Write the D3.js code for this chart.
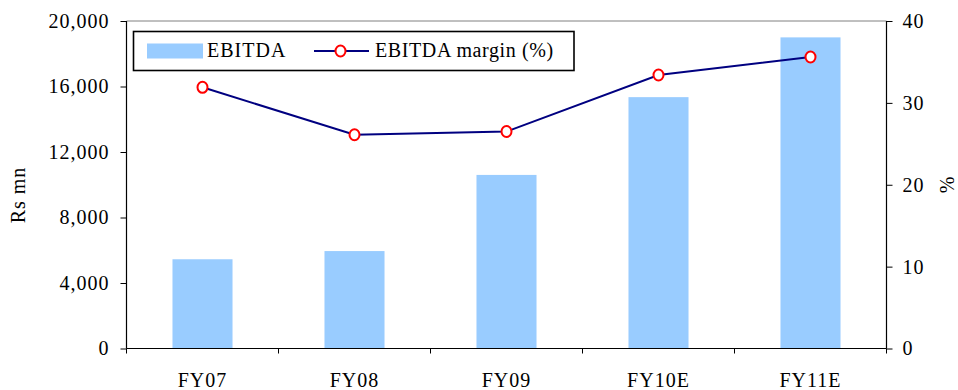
<!DOCTYPE html>
<html><head><meta charset="utf-8">
<script src="https://cdn.jsdelivr.net/npm/d3@7"></script>
<style>body{margin:0;background:#fff}svg{display:block}text{font-family:"Liberation Serif","Times New Roman",serif;fill:#000}</style>
</head><body><svg id="c" width="958" height="390" font-family="Liberation Serif"></svg>
<script>
const categories = ["FY07","FY08","FY09","FY10E","FY11E"];
const ebitda = [5450, 5950, 10600, 15350, 19000];
const margin = [31.9, 26.1, 26.5, 33.4, 35.6];
const leftTicks = [0, 4000, 8000, 12000, 16000, 20000];
const rightTicks = [0, 10, 20, 30, 40];

const svg = d3.select("#c");
const L = 126.5, R = 886.5, T = 21, B = 348.5;
const fs = 20, ls = 1;
const FF = "Liberation Serif";

const x = d3.scaleBand().domain(categories).range([L, R]).padding(0);
const yL = d3.scaleLinear().domain([0, 20000]).range([B, T]);
const yR = d3.scaleLinear().domain([0, 40]).range([B, T]);

// top border
svg.append("line").attr("x1", L).attr("x2", R).attr("y1", T).attr("y2", T).attr("stroke", "#808080").attr("stroke-width", 1);

// bars
const bw = x.bandwidth() * 0.395;
svg.selectAll("rect.bar").data(categories).enter().append("rect")
  .attr("x", d => x(d) + x.bandwidth()/2 - bw/2)
  .attr("y", (d,i) => yL(ebitda[i]))
  .attr("width", bw)
  .attr("height", (d,i) => B - yL(ebitda[i]))
  .attr("fill", "#99ccff");

// axes
const fmt = d3.format(",");
const gL = svg.append("g").attr("transform", `translate(${L},0)`)
  .call(d3.axisLeft(yL).tickValues(leftTicks).tickFormat(fmt).tickSize(6).tickPadding(11));
const gR = svg.append("g").attr("transform", `translate(${R},0)`)
  .call(d3.axisRight(yR).tickValues(rightTicks).tickFormat(d3.format("d")).tickSize(6).tickPadding(10));
const boundaries = categories.map(c => x(c)).concat([R]);
const gB = svg.append("g").attr("transform", `translate(0,${B})`)
  .call(d3.axisBottom(x).tickSize(0).tickPadding(0));
gB.selectAll(".tick text").attr("y", 0).attr("dy", 0).attr("transform", "translate(0,38)");
gB.selectAll(".bt").data(boundaries).enter().append("line").attr("class","bt")
  .attr("x1", d => d).attr("x2", d => d).attr("y1", 0).attr("y2", 5).attr("stroke", "#000");
[gL, gR, gB].forEach(g => {
  g.attr("font-family", FF).attr("font-size", fs);
  g.selectAll("path.domain").attr("stroke", "#000").attr("stroke-width", 1.2);
  g.selectAll("line").attr("stroke", "#000");
  g.selectAll("text").attr("font-family", FF).style("font-size", fs + "px").style("letter-spacing", ls + "px").attr("fill", "#111");
});
gL.select("path.domain").attr("d", `M0,${T}V${B}`);
gR.select("path.domain").attr("d", `M0,${T}V${B}`);
gB.select("path.domain").attr("d", `M${L},0H${R}`);

// line
const px = d => x(d) + x.bandwidth()/2;
const line = d3.line().x((d,i) => px(categories[i])).y(d => yR(d));
svg.append("path").datum(margin).attr("d", line).attr("fill", "none").attr("stroke", "#000080").attr("stroke-width", 2);
svg.selectAll("ellipse.m").data(margin).enter().append("ellipse")
  .attr("cx", (d,i) => px(categories[i])).attr("cy", d => yR(d))
  .attr("rx", 5).attr("ry", 5.5)
  .attr("fill", "#fff").attr("stroke", "#ff0000").attr("stroke-width", 2);

// axis titles
svg.append("text").attr("transform", "translate(25,195) rotate(-90)").attr("text-anchor", "middle")
  .attr("font-family", FF).attr("fill", "#111").style("font-size", fs + "px").style("letter-spacing", ls + "px").text("Rs mn");
svg.append("text").attr("transform", "translate(954,185) rotate(-90)").attr("text-anchor", "middle")
  .attr("font-family", FF).attr("fill", "#111").style("font-size", fs + "px").text("%");

// legend
const lg = svg.append("g");
lg.append("rect").attr("x", 133.5).attr("y", 31.5).attr("width", 440.5).attr("height", 39)
  .attr("fill", "#fff").attr("stroke", "#000").attr("stroke-width", 1.6);
lg.append("rect").attr("x", 147).attr("y", 43.5).attr("width", 56).attr("height", 15).attr("fill", "#99ccff");
lg.append("text").attr("x", 207).attr("y", 57).attr("font-family", FF).attr("fill", "#111").style("font-size", fs + "px").style("letter-spacing", ls + "px").text("EBITDA");
lg.append("line").attr("x1", 314).attr("x2", 369).attr("y1", 51).attr("y2", 51).attr("stroke", "#000080").attr("stroke-width", 2);
lg.append("ellipse").attr("cx", 340.5).attr("cy", 51).attr("rx", 5).attr("ry", 5.5).attr("fill", "#fff").attr("stroke", "#ff0000").attr("stroke-width", 2);
lg.append("text").attr("x", 375).attr("y", 57).attr("font-family", FF).attr("fill", "#111").style("font-size", fs + "px").style("letter-spacing", "0.6px").text("EBITDA margin (%)");
</script></body></html>
